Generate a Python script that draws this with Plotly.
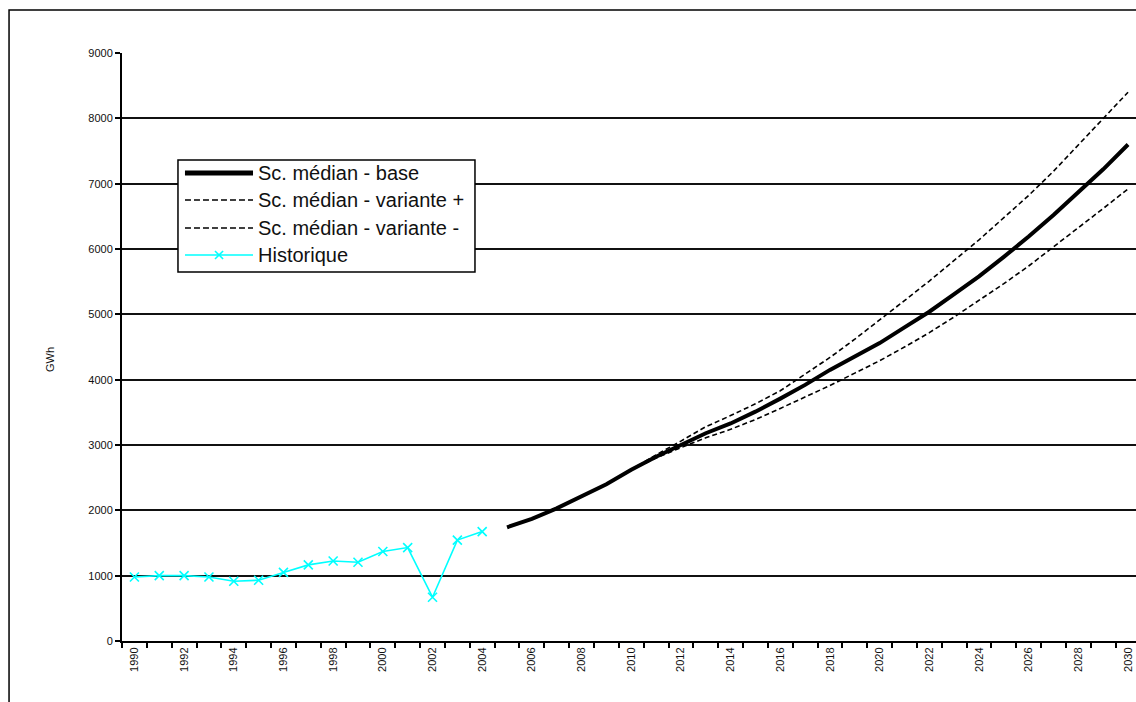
import plotly.graph_objects as go

# Historical consumption (GWh)
hist_years = list(range(1990, 2005))
hist_values = [980, 1000, 1000, 980, 915, 930, 1050, 1165, 1225, 1205,
               1370, 1430, 670, 1545, 1675]

# Median scenario, base case
base_years = list(range(2005, 2031))
base_values = [1740, 1870, 2030, 2210, 2400, 2620, 2820, 3000, 3180, 3330,
               3510, 3710, 3920, 4150, 4360, 4560, 4800, 5040, 5310, 5580,
               5880, 6190, 6520, 6860, 7220, 7600]

# Median scenario, high and low variants
var_years = list(range(2010, 2031))
var_plus = [2620, 2850, 3060, 3280, 3450, 3630, 3830, 4080, 4340, 4620,
            4910, 5210, 5510, 5820, 6140, 6480, 6820, 7190, 7590, 8000, 8400]
var_minus = [2620, 2800, 2960, 3110, 3240, 3390, 3560, 3730, 3910, 4100,
             4290, 4500, 4720, 4960, 5210, 5470, 5740, 6030, 6320, 6620, 6920]

# Axis labelling
label_years = list(range(1990, 2031, 2))
label_text = [str(y) for y in label_years]
y_ticks = list(range(0, 9001, 1000))

legend_labels = ["Sc. médian - base", "Sc. médian - variante +",
                 "Sc. médian - variante -", "Historique"]

FONT = "Liberation Sans, Arial, sans-serif"
CYAN = "#00FFFF"

fig = go.Figure()

fig.add_trace(go.Scatter(
    x=var_years, y=var_plus, mode="lines",
    line=dict(color="black", width=1.6, dash="5px,3px"),
    name=legend_labels[1]))
fig.add_trace(go.Scatter(
    x=var_years, y=var_minus, mode="lines",
    line=dict(color="black", width=1.6, dash="5px,3px"),
    name=legend_labels[2]))
fig.add_trace(go.Scatter(
    x=base_years, y=base_values, mode="lines",
    line=dict(color="black", width=4),
    name=legend_labels[0]))
fig.add_trace(go.Scatter(
    x=hist_years, y=hist_values, mode="lines+markers",
    line=dict(color=CYAN, width=1.6),
    marker=dict(symbol="x-thin", size=9, line=dict(color=CYAN, width=1.6)),
    name=legend_labels[3]))

# Hand-built legend box (long line samples)
lx0, lx1 = 0.0552, 0.3481
ly0, ly1 = 0.6276, 0.818
sx0, sx1, sxm = 0.0621, 0.1292, 0.0957
text_x = 0.1321
rows = [0.7959, 0.7500, 0.7024, 0.6565]

shapes = [
    # outer chart frame
    dict(type="rect", xref="paper", yref="paper",
         x0=-0.1114, x1=1.2, y0=-0.3, y1=1.0731,
         line=dict(color="black", width=1.5), fillcolor="rgba(0,0,0,0)",
         layer="above"),
    # legend box
    dict(type="rect", xref="paper", yref="paper",
         x0=lx0, x1=lx1, y0=ly0, y1=ly1,
         line=dict(color="black", width=1.5), fillcolor="white",
         layer="above"),
    dict(type="line", xref="paper", yref="paper",
         x0=sx0, x1=sx1, y0=rows[0], y1=rows[0],
         line=dict(color="black", width=5), layer="above"),
    dict(type="line", xref="paper", yref="paper",
         x0=sx0, x1=sx1, y0=rows[1], y1=rows[1],
         line=dict(color="black", width=1.5, dash="6px,3px"), layer="above"),
    dict(type="line", xref="paper", yref="paper",
         x0=sx0, x1=sx1, y0=rows[2], y1=rows[2],
         line=dict(color="black", width=1.5, dash="6px,3px"), layer="above"),
    dict(type="line", xref="paper", yref="paper",
         x0=sx0, x1=sx1, y0=rows[3], y1=rows[3],
         line=dict(color=CYAN, width=1.6), layer="above"),
    # cross marker on the historical sample
    dict(type="line", xref="paper", yref="paper",
         x0=sxm - 0.0040, x1=sxm + 0.0040, y0=rows[3] - 0.0068, y1=rows[3] + 0.0068,
         line=dict(color=CYAN, width=1.6), layer="above"),
    dict(type="line", xref="paper", yref="paper",
         x0=sxm - 0.0040, x1=sxm + 0.0040, y0=rows[3] + 0.0068, y1=rows[3] - 0.0068,
         line=dict(color=CYAN, width=1.6), layer="above"),
]

annotations = [
    dict(xref="paper", yref="paper", x=text_x, y=ry, text=t,
         showarrow=False, xanchor="left", yanchor="middle",
         font=dict(family=FONT, size=20, color="#111"))
    for t, ry in zip(legend_labels, rows)
]
annotations.append(dict(
    xref="paper", yref="paper", x=-0.071, y=0.478, text="GWh",
    textangle=-90, showarrow=False, xanchor="center", yanchor="middle",
    font=dict(family=FONT, size=11, color="#111")))

fig.update_layout(
    width=1136, height=702,
    margin=dict(l=122, r=0, t=53, b=61),
    paper_bgcolor="white", plot_bgcolor="white",
    showlegend=False,
    shapes=shapes,
    annotations=annotations,
    font=dict(family=FONT, size=11, color="#111"),
    xaxis=dict(
        range=[1989.5, 2030.32],
        tickmode="array", tickvals=label_years, ticktext=label_text,
        tickangle=-90, ticks="", showgrid=False, zeroline=False,
        showline=True, linecolor="black", linewidth=2,
        tickfont=dict(family=FONT, size=11, color="#111"),
        minor=dict(tick0=1989.5, dtick=1, ticks="outside", ticklen=5,
                   tickwidth=1.5, tickcolor="black", showgrid=False),
    ),
    yaxis=dict(
        range=[0, 9000],
        tickmode="array", tickvals=y_ticks,
        ticks="outside", ticklen=5, tickwidth=1.5, tickcolor="black",
        showgrid=True, gridcolor="#111", gridwidth=1.6,
        zeroline=False, showline=True, linecolor="black", linewidth=2,
        tickfont=dict(family=FONT, size=11, color="#111"),
    ),
)

fig.write_html("out.html")
